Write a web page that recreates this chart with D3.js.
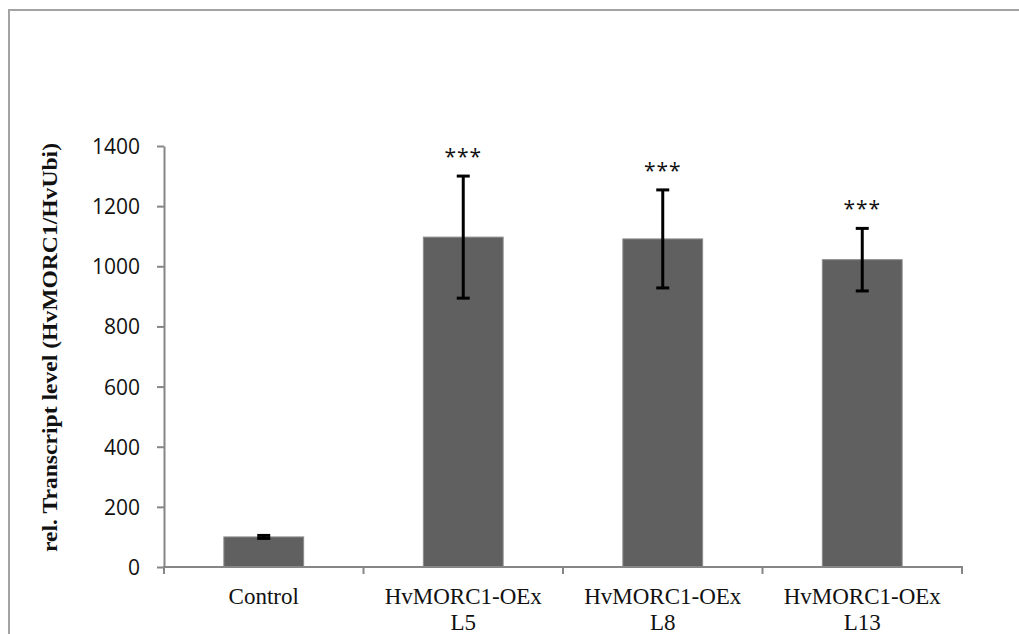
<!DOCTYPE html>
<html>
<head>
<meta charset="utf-8">
<script src="https://cdn.jsdelivr.net/npm/d3@7"></script>
<style>
  html, body { margin: 0; padding: 0; background: #fff; }
  svg { display: block; }
</style>
</head>
<body>
<svg id="chart" width="1019" height="634"></svg>
<script>
// Relative transcript levels (HvMORC1 / HvUbi) per line
const categories = ["Control", "HvMORC1-OEx L5", "HvMORC1-OEx L8", "HvMORC1-OEx L13"];
const categoryLines = [["Control"], ["HvMORC1-OEx", "L5"], ["HvMORC1-OEx", "L8"], ["HvMORC1-OEx", "L13"]];
const means = [100, 1097, 1091, 1022];
const errors = [5, 203, 163, 104];
const significance = ["", "***", "***", "***"];
const yTicks = [0, 200, 400, 600, 800, 1000, 1200, 1400];
const yTitle = "rel. Transcript level (HvMORC1/HvUbi)";

const svg = d3.select("#chart");
const W = 1019, H = 634;

// outer frame of the chart area
svg.append("rect")
  .attr("x", 9).attr("y", 10)
  .attr("width", W + 20).attr("height", H + 20)
  .attr("fill", "none")
  .attr("stroke", "#a3a3a3")
  .attr("stroke-width", 2);

const plot = { left: 164, right: 962, top: 146, bottom: 567 };

const x = d3.scaleBand()
  .domain(categories)
  .range([plot.left, plot.right])
  .paddingInner(0.6)
  .paddingOuter(0.3);

const y = d3.scaleLinear()
  .domain([0, 1400])
  .range([plot.bottom, plot.top]);

const axisColor = "#868686";

// y axis
const yAxis = svg.append("g")
  .attr("transform", `translate(${plot.left},0)`)
  .call(d3.axisLeft(y).tickValues(yTicks).tickFormat(d3.format("d"))
    .tickSize(7).tickPadding(17).tickSizeOuter(0));
yAxis.select(".domain").attr("stroke", axisColor).attr("stroke-width", 2);
yAxis.selectAll(".tick line").attr("stroke", axisColor).attr("stroke-width", 2);
yAxis.selectAll(".tick text")
  .attr("font-family", "'Open Sans', sans-serif")
  .attr("font-size", 21)
  .attr("fill", "#111")
  .attr("dy", "0.36em");

// bars
svg.append("g").selectAll("rect")
  .data(categories)
  .join("rect")
  .attr("x", d => x(d))
  .attr("width", x.bandwidth())
  .attr("y", (d, i) => y(means[i]))
  .attr("height", (d, i) => y(0) - y(means[i]))
  .attr("fill", "#606060")
  .attr("stroke", "#8c8c8c")
  .attr("stroke-width", 1);

// x axis with ticks at category boundaries
const xBase = svg.append("g");
xBase.append("line")
  .attr("x1", plot.left - 1).attr("x2", plot.right + 1)
  .attr("y1", y(0)).attr("y2", y(0))
  .attr("stroke", axisColor).attr("stroke-width", 2);
const boundaries = categories.map(c => x(c) - x.step() * x.paddingInner() / 2);
boundaries[0] = plot.left;
boundaries.push(plot.right);
xBase.selectAll("line.bound")
  .data(boundaries)
  .join("line")
  .attr("class", "bound")
  .attr("x1", d => d).attr("x2", d => d)
  .attr("y1", y(0)).attr("y2", y(0) + 7)
  .attr("stroke", axisColor).attr("stroke-width", 2);

// error bars
const capW = 13;
const eb = svg.append("g").attr("stroke", "#000").attr("stroke-width", 3);
categories.forEach((c, i) => {
  const cx = x(c) + x.bandwidth() / 2;
  const top = y(means[i] + errors[i]);
  const bot = y(means[i] - errors[i]);
  eb.append("line").attr("x1", cx).attr("x2", cx).attr("y1", top).attr("y2", bot);
  eb.append("line").attr("x1", cx - capW / 2).attr("x2", cx + capW / 2).attr("y1", top).attr("y2", top);
  eb.append("line").attr("x1", cx - capW / 2).attr("x2", cx + capW / 2).attr("y1", bot).attr("y2", bot);
});

// significance markers
svg.append("g").selectAll("text")
  .data(categories)
  .join("text")
  .attr("x", d => x(d) + x.bandwidth() / 2)
  .attr("y", (d, i) => y(means[i] + errors[i]) - 12)
  .attr("text-anchor", "middle")
  .attr("font-family", "'Open Sans', sans-serif")
  .attr("font-size", 21)
  .attr("letter-spacing", 1)
  .attr("fill", "#111")
  .text((d, i) => significance[i]);

// category labels
const catG = svg.append("g")
  .attr("font-family", "'Liberation Serif', 'Times New Roman', serif")
  .attr("font-size", 23)
  .attr("fill", "#111")
  .attr("text-anchor", "middle");
categories.forEach((c, i) => {
  const t = catG.append("text")
    .attr("x", x(c) + x.bandwidth() / 2)
    .attr("y", 604);
  categoryLines[i].forEach((line, j) => {
    t.append("tspan")
      .attr("x", x(c) + x.bandwidth() / 2)
      .attr("dy", j === 0 ? 0 : 26)
      .text(line);
  });
});

// y axis title
svg.append("text")
  .attr("transform", `translate(57,${(143 + 552) / 2}) rotate(-90)`)
  .attr("text-anchor", "middle")
  .attr("font-family", "'Liberation Serif', 'Times New Roman', serif")
  .attr("font-weight", "bold")
  .attr("font-size", 22)
  .attr("textLength", 409)
  .attr("lengthAdjust", "spacingAndGlyphs")
  .attr("fill", "#111")
  .text(yTitle);
</script>
</body>
</html>
